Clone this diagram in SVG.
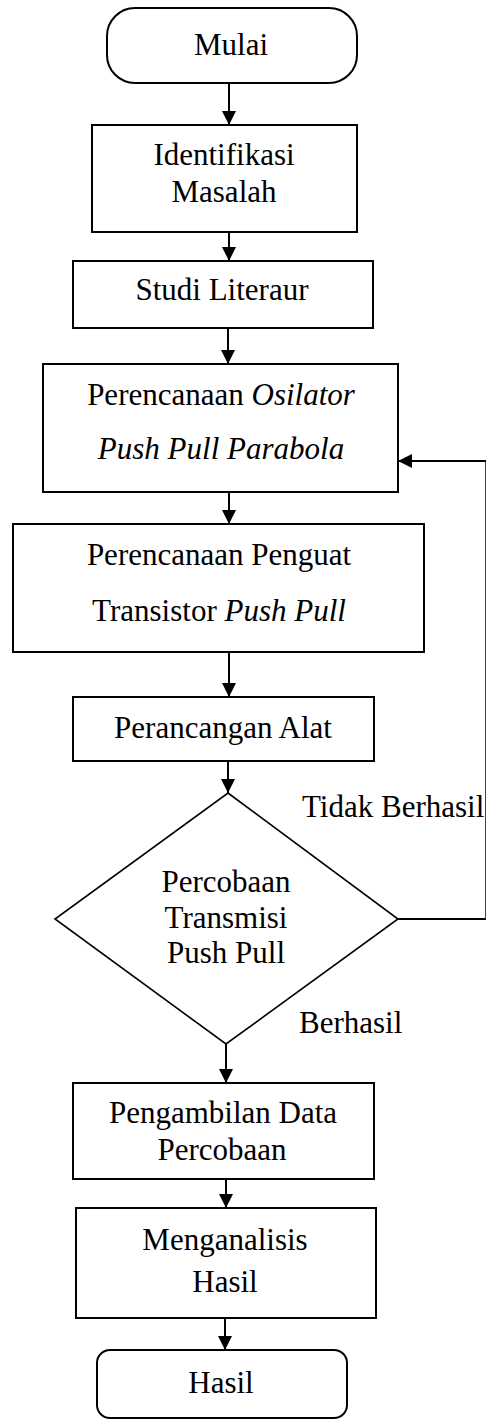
<svg xmlns="http://www.w3.org/2000/svg" width="486" height="1420" viewBox="0 0 486 1420">
<style>
.box{fill:#fff;stroke:#000;stroke-width:2}
.dia{fill:#fff;stroke:#000;stroke-width:1.6}
.t{font-family:"Liberation Serif","Times New Roman",serif;font-size:31px;fill:#000;text-anchor:middle}
.l{font-family:"Liberation Serif","Times New Roman",serif;font-size:31px;fill:#000}
.c{fill:none;stroke:#000;stroke-width:2}
.thin{fill:none;stroke:#444;stroke-width:1}
</style>
<defs>
<marker id="ah" markerUnits="userSpaceOnUse" markerWidth="15" markerHeight="15" refX="14" refY="7" orient="auto">
<path d="M0,0 L14,7 L0,14 z" fill="#000"/>
</marker>
</defs>
<rect width="486" height="1420" fill="#fff"/>
<g id="connectors">
<line class="c" x1="229" y1="83" x2="229" y2="125" marker-end="url(#ah)"/>
<line class="c" x1="229" y1="232" x2="229" y2="261" marker-end="url(#ah)"/>
<line class="c" x1="228" y1="328" x2="228" y2="364" marker-end="url(#ah)"/>
<line class="c" x1="229" y1="492" x2="229" y2="524" marker-end="url(#ah)"/>
<line class="c" x1="229" y1="652" x2="229" y2="697" marker-end="url(#ah)"/>
<line class="c" x1="228" y1="761" x2="228" y2="793" marker-end="url(#ah)"/>
<line class="c" x1="226" y1="1044" x2="226" y2="1083" marker-end="url(#ah)"/>
<line class="c" x1="226" y1="1179" x2="226" y2="1208" marker-end="url(#ah)"/>
<line class="c" x1="225" y1="1318" x2="225" y2="1350" marker-end="url(#ah)"/>
<line class="c" x1="398" y1="919" x2="486" y2="919"/>
<line class="thin" x1="485.5" y1="919" x2="485.5" y2="461"/>
<line class="c" x1="486" y1="461" x2="398" y2="461" marker-end="url(#ah)"/>
<text class="l" x="302" y="817">Tidak Berhasil</text>
<text class="l" x="299" y="1033">Berhasil</text>
</g>
<g id="mulai">
<rect class="box" x="107" y="8" width="250" height="75" rx="28" ry="28"/>
<text class="t" x="231" y="55">Mulai</text>
</g>
<g id="identifikasi">
<rect class="box" x="92" y="125" width="265" height="107"/>
<text class="t" x="224" y="165">Identifikasi</text>
<text class="t" x="224" y="202">Masalah</text>
</g>
<g id="studi">
<rect class="box" x="73" y="261" width="300" height="67"/>
<text class="t" x="222" y="300">Studi Literaur</text>
</g>
<g id="osilator">
<rect class="box" x="43" y="364" width="355" height="128"/>
<text class="t" x="221" y="405">Perencanaan <tspan font-style="italic">Osilator</tspan></text>
<text class="t" x="221" y="459" font-style="italic">Push Pull Parabola</text>
</g>
<g id="penguat">
<rect class="box" x="13" y="524" width="411" height="128"/>
<text class="t" x="219" y="565">Perencanaan Penguat</text>
<text class="t" x="219" y="621">Transistor <tspan font-style="italic">Push Pull</tspan></text>
</g>
<g id="alat">
<rect class="box" x="73" y="697" width="301" height="64"/>
<text class="t" x="223" y="738">Perancangan Alat</text>
</g>
<g id="percobaan">
<polygon class="dia" points="228,793 398,919 226,1044 55,919"/>
<text class="t" x="226" y="892">Percobaan</text>
<text class="t" x="226" y="928">Transmisi</text>
<text class="t" x="226" y="963">Push Pull</text>
</g>
<g id="pengambilan">
<rect class="box" x="73" y="1083" width="301" height="96"/>
<text class="t" x="223" y="1123">Pengambilan Data</text>
<text class="t" x="222" y="1160">Percobaan</text>
</g>
<g id="menganalisis">
<rect class="box" x="76" y="1208" width="300" height="110"/>
<text class="t" x="225" y="1250">Menganalisis</text>
<text class="t" x="225" y="1292">Hasil</text>
</g>
<g id="hasil">
<rect class="box" x="97" y="1350" width="250" height="68" rx="13" ry="13"/>
<text class="t" x="221" y="1393">Hasil</text>
</g>
</svg>
